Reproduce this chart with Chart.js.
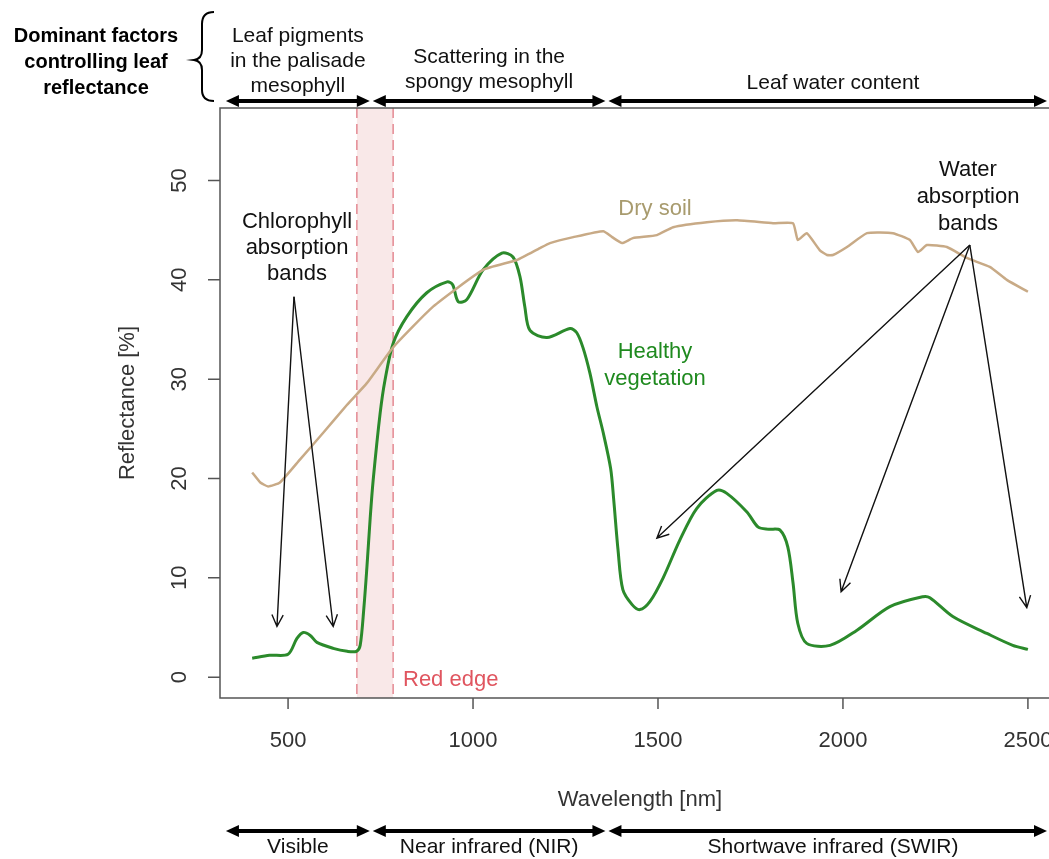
<!DOCTYPE html>
<html>
<head>
<meta charset="utf-8">
<title>Leaf reflectance spectra</title>
<script src="https://cdn.jsdelivr.net/npm/chart.js@4.4.1/dist/chart.umd.min.js"></script>
<style>
  html, body { margin: 0; padding: 0; background: #fff; overflow: hidden; }
</style>
</head>
<body>
<canvas id="spectraChart" width="1049" height="859"></canvas>
<script>
// healthy vegetation spectrum (wavelength nm / reflectance %)
const vegWl = [403, 450, 500, 524, 541, 560, 578, 622, 660, 685, 695, 705, 713, 722, 730, 749, 762, 784, 821, 875,
  930, 945, 960, 983, 1027, 1078, 1108, 1127, 1140, 1154, 1200, 1262, 1280, 1297, 1316, 1335, 1352, 1372, 1380, 1392,
  1405, 1430, 1451, 1478, 1514, 1559, 1605, 1659, 1686, 1741, 1771, 1800, 1830, 1851, 1865, 1878, 1902, 1965, 2037, 2127,
  2216, 2235, 2297, 2389, 2459, 2500];
const vegRefl = [1.9, 2.2, 2.3, 3.9, 4.5, 4.2, 3.5, 2.9, 2.6, 2.6, 3.2, 7, 11, 16, 19.8, 26.6, 29.9, 33.6, 36.3, 38.7,
  39.8, 39.5, 37.8, 38, 41, 42.7, 42.3, 40.3, 37.3, 34.9, 34.2, 35.1, 34.7, 33.2, 30.6, 27.2, 24.6, 21, 18, 12.8,
  8.8, 7.3, 6.8, 7.6, 10, 13.8, 17, 18.8, 18.5, 16.6, 15.1, 14.9, 14.8, 13.1, 9.5, 5.4, 3.4, 3.2, 4.7, 7.1,
  8.1, 8.0, 6.1, 4.4, 3.2, 2.8];

// dry soil spectrum
const soilWl = [403, 425, 446, 478, 532, 595, 659, 713, 784, 892, 1027, 1119, 1181, 1208, 1271, 1352, 1376, 1403, 1432, 1497,
  1541, 1632, 1714, 1811, 1865, 1878, 1902, 1937, 1957, 1973, 2011, 2065, 2135, 2181, 2203, 2227, 2281, 2335, 2397, 2443, 2500];
const soilRefl = [20.6, 19.6, 19.2, 19.6, 21.9, 24.6, 27.4, 29.6, 33.2, 37.3, 41, 42, 43.2, 43.7, 44.3, 44.9, 44.3, 43.7, 44.2, 44.5,
  45.3, 45.8, 46, 45.7, 45.7, 44, 44.7, 43, 42.5, 42.5, 43.3, 44.7, 44.7, 44, 42.8, 43.5, 43.3, 42.2, 41.3, 40, 38.8];

const xTicks = [500, 1000, 1500, 2000, 2500];
const yTicks = [0, 10, 20, 30, 40, 50];

// red edge band and region limits (nm)
const redEdge = [686, 784];
const regionBounds = [332, 725, 1362, 2557];
const regionNames = ['Visible', 'Near infrared (NIR)', 'Shortwave infrared (SWIR)'];
const factorNames = [
    ['Leaf pigments', 'in the palisade', 'mesophyll'],
    ['Scattering in the', 'spongy mesophyll'],
    ['Leaf water content']
];

// annotation arrows: apex and tips in data units
const chloroApex = [516, 38.3];
const chloroTips = [[470, 5.1], [622, 5.1]];
const waterApex = [2343, 43.5];
const waterTips = [[1497, 14.0], [1995, 8.6], [2497, 7.0]];

const FONT = '"Liberation Sans", Arial, sans-serif';

function textLines(ctx, lines, x, y, lh, font, color) {
    ctx.font = font;
    ctx.fillStyle = color;
    ctx.textAlign = 'center';
    ctx.textBaseline = 'middle';
    lines.forEach((t, i) => ctx.fillText(t, x, y + i * lh));
}

function openArrow(ctx, x1, y1, x2, y2) {
    ctx.beginPath();
    ctx.moveTo(x1, y1);
    ctx.lineTo(x2, y2);
    const a = Math.atan2(y2 - y1, x2 - x1);
    const len = 13, spread = 0.45;
    ctx.moveTo(x2 - len * Math.cos(a - spread), y2 - len * Math.sin(a - spread));
    ctx.lineTo(x2, y2);
    ctx.lineTo(x2 - len * Math.cos(a + spread), y2 - len * Math.sin(a + spread));
    ctx.stroke();
}

function doubleArrow(ctx, x1, x2, y) {
    const hl = 13, hw = 6;
    ctx.fillStyle = '#000';
    ctx.strokeStyle = '#000';
    ctx.lineWidth = 4;
    ctx.beginPath();
    ctx.moveTo(x1 + hl - 2, y);
    ctx.lineTo(x2 - hl + 2, y);
    ctx.stroke();
    ctx.beginPath();
    ctx.moveTo(x1, y);
    ctx.lineTo(x1 + hl, y - hw);
    ctx.lineTo(x1 + hl, y + hw);
    ctx.closePath();
    ctx.fill();
    ctx.beginPath();
    ctx.moveTo(x2, y);
    ctx.lineTo(x2 - hl, y - hw);
    ctx.lineTo(x2 - hl, y + hw);
    ctx.closePath();
    ctx.fill();
}

const bandPlugin = {
    id: 'redEdgeBand',
    beforeDatasetsDraw(chart) {
        const ctx = chart.ctx, area = chart.chartArea, xs = chart.scales.x;
        const x1 = xs.getPixelForValue(redEdge[0]), x2 = xs.getPixelForValue(redEdge[1]);
        ctx.save();
        ctx.fillStyle = 'rgba(238, 190, 190, 0.35)';
        ctx.fillRect(x1, area.top, x2 - x1, area.bottom - area.top);
        ctx.strokeStyle = '#e07a84';
        ctx.lineWidth = 1.3;
        ctx.setLineDash([10, 6]);
        [x1, x2].forEach(x => {
            ctx.beginPath();
            ctx.moveTo(x, area.top);
            ctx.lineTo(x, area.bottom);
            ctx.stroke();
        });
        ctx.restore();
    }
};

const decorPlugin = {
    id: 'decor',
    afterDraw(chart) {
        const ctx = chart.ctx, area = chart.chartArea;
        const xs = chart.scales.x, ys = chart.scales.y;
        const px = v => xs.getPixelForValue(v), py = v => ys.getPixelForValue(v);
        ctx.save();

        // axes box (left, top, bottom) in R style
        ctx.strokeStyle = '#555';
        ctx.lineWidth = 1.5;
        ctx.setLineDash([]);
        ctx.beginPath();
        ctx.moveTo(area.right + 2, area.top);
        ctx.lineTo(area.left, area.top);
        ctx.lineTo(area.left, area.bottom);
        ctx.lineTo(area.right + 2, area.bottom);
        ctx.stroke();

        // ticks + labels
        ctx.beginPath();
        xTicks.forEach(t => {
            ctx.moveTo(px(t), area.bottom);
            ctx.lineTo(px(t), area.bottom + 11);
        });
        yTicks.forEach(t => {
            ctx.moveTo(area.left, py(t));
            ctx.lineTo(area.left - 12, py(t));
        });
        ctx.stroke();

        ctx.font = '22px ' + FONT;
        ctx.fillStyle = '#333';
        ctx.textAlign = 'center';
        ctx.textBaseline = 'middle';
        xTicks.forEach(t => ctx.fillText(String(t), px(t), 741));
        yTicks.forEach(t => {
            ctx.save();
            ctx.translate(180, py(t));
            ctx.rotate(-Math.PI / 2);
            ctx.fillText(String(t), 0, 0);
            ctx.restore();
        });

        // axis titles
        ctx.fillText('Wavelength [nm]', 640, 800);
        ctx.save();
        ctx.translate(128, 403);
        ctx.rotate(-Math.PI / 2);
        ctx.fillText('Reflectance [%]', 0, 0);
        ctx.restore();

        // curve labels
        textLines(ctx, ['Dry soil'], 655, 209, 27, '22px ' + FONT, '#a89b6e');
        textLines(ctx, ['Healthy', 'vegetation'], 655, 352, 27, '22px ' + FONT, '#1f8a1f');
        ctx.font = '22px ' + FONT;
        ctx.fillStyle = '#e0555f';
        ctx.textAlign = 'left';
        ctx.fillText('Red edge', 403, 680);

        // absorption band annotations
        textLines(ctx, ['Chlorophyll', 'absorption', 'bands'], 297, 222, 26, '22px ' + FONT, '#111');
        textLines(ctx, ['Water', 'absorption', 'bands'], 968, 170, 27, '22px ' + FONT, '#111');
        ctx.strokeStyle = '#111';
        ctx.lineWidth = 1.4;
        chloroTips.forEach(t => openArrow(ctx, px(chloroApex[0]), py(chloroApex[1]), px(t[0]), py(t[1])));
        waterTips.forEach(t => openArrow(ctx, px(waterApex[0]), py(waterApex[1]), px(t[0]), py(t[1])));

        // region arrows top and bottom
        for (let i = 0; i < regionNames.length; i++) {
            const a = px(regionBounds[i]) + (i ? 1.5 : 0);
            const b = Math.min(px(regionBounds[i + 1]) - 1.5, chart.width - 2);
            doubleArrow(ctx, a, b, 101);
            doubleArrow(ctx, a, b, 831);
            const mid = i === 2 ? 833 : (a + b) / 2;
            textLines(ctx, [regionNames[i]], mid, 847, 26, '21px ' + FONT, '#111');
            const f = factorNames[i];
            const y0 = f.length === 3 ? 36 : (f.length === 2 ? 57 : 83);
            textLines(ctx, f, mid, y0, 25, '21px ' + FONT, '#111');
        }

        // heading and brace
        textLines(ctx, ['Dominant factors', 'controlling leaf', 'reflectance'], 96, 36, 26, 'bold 20px ' + FONT, '#000');
        ctx.strokeStyle = '#000';
        ctx.lineWidth = 2;
        ctx.beginPath();
        ctx.moveTo(214, 12);
        ctx.quadraticCurveTo(202, 12, 202, 24);
        ctx.lineTo(202, 50);
        ctx.quadraticCurveTo(202, 59, 194, 60);
        ctx.quadraticCurveTo(202, 61, 202, 70);
        ctx.lineTo(202, 90);
        ctx.quadraticCurveTo(202, 101, 214, 101);
        ctx.stroke();

        ctx.restore();
    }
};

function toPoints(xs, ys) {
    return xs.map((x, i) => ({ x: x, y: ys[i] }));
}

document.addEventListener('DOMContentLoaded', function() {
    const ctx = document.getElementById('spectraChart');
    new Chart(ctx, {
        type: 'line',
        data: {
            datasets: [{
                label: 'Dry soil',
                data: toPoints(soilWl, soilRefl),
                borderColor: '#c8aa86',
                borderWidth: 2.5,
                tension: 0.15
            }, {
                label: 'Healthy vegetation',
                data: toPoints(vegWl, vegRefl),
                borderColor: '#2b8a2b',
                borderWidth: 3,
                tension: 0.3
            }]
        },
        options: {
            responsive: false,
            animation: false,
            layout: { padding: { left: 220, top: 108, right: 0, bottom: 161 } },
            elements: { point: { radius: 0 } },
            plugins: { legend: { display: false }, tooltip: { enabled: false } },
            scales: {
                x: { type: 'linear', min: 316, max: 2557, display: false },
                y: { min: -2.1, max: 57.3, display: false }
            }
        },
        plugins: [bandPlugin, decorPlugin]
    });
});
</script>
</body>
</html>
